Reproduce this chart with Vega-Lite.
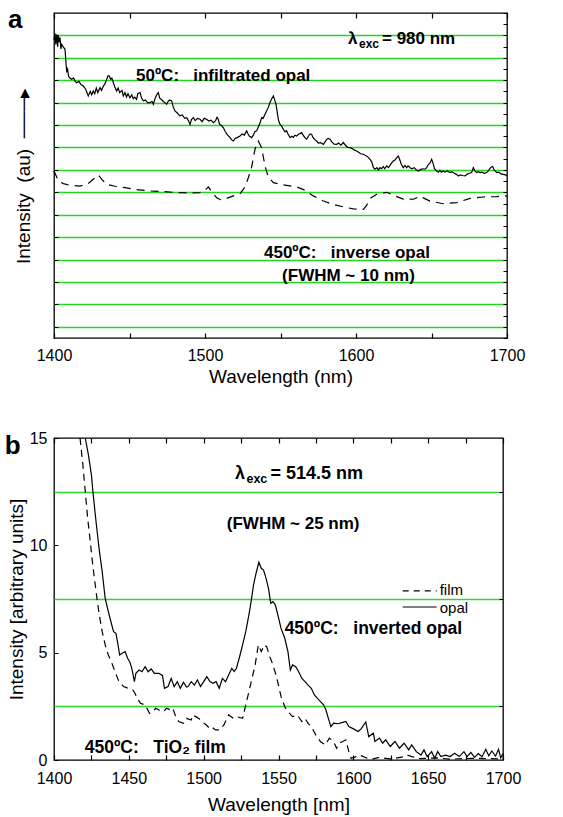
{
"$schema":"https://vega.github.io/schema/vega-lite/v6.json",
"background":"white",
"padding":{"left":4,"top":6,"right":10,"bottom":5},
"spacing":42,
"config":{"font":"Liberation Sans","view":{"stroke":"black","strokeWidth":1.3},"axis":{"labelColor":"black","titleColor":"black","tickColor":"black","labelFont":"Liberation Sans","titleFont":"Liberation Sans","titleFontWeight":"normal","domain":false,"grid":false},"text":{"color":"black"}},
"vconcat":[
{
"width":453,"height":325,
"data":{"values":[
{"s":"o","w":1400.0,"v":13.3},{"s":"o","w":1400.6,"v":13.6},{"s":"o","w":1401.2,"v":13.1},{"s":"o","w":1401.8,"v":13.55},{"s":"o","w":1402.4,"v":13.0},{"s":"o","w":1402.9,"v":13.5},{"s":"o","w":1403.5,"v":13.2},{"s":"o","w":1404.0,"v":13.4},{"s":"o","w":1404.6,"v":12.9},{"s":"o","w":1405.1,"v":13.1},{"s":"o","w":1406.0,"v":13.0},{"s":"o","w":1407.3,"v":12.88},{"s":"o","w":1408.0,"v":12.2},{"s":"o","w":1408.4,"v":11.91},{"s":"o","w":1409.0,"v":12.0},{"s":"o","w":1409.6,"v":11.69},{"s":"o","w":1410.5,"v":11.6},{"s":"o","w":1411.7,"v":11.54},{"s":"o","w":1413,"v":11.6},{"s":"o","w":1414,"v":11.45},{"s":"o","w":1415.0,"v":11.39},{"s":"o","w":1416.5,"v":11.45},{"s":"o","w":1418,"v":11.3},{"s":"o","w":1419.4,"v":11.24},{"s":"o","w":1421,"v":11.1},{"s":"o","w":1422.7,"v":10.8},{"s":"o","w":1424,"v":11.0},{"s":"o","w":1425,"v":10.85},{"s":"o","w":1426.0,"v":11.02},{"s":"o","w":1427,"v":10.9},{"s":"o","w":1428,"v":11.15},{"s":"o","w":1429,"v":10.95},{"s":"o","w":1430.5,"v":11.17},{"s":"o","w":1431.5,"v":11.05},{"s":"o","w":1432.7,"v":11.24},{"s":"o","w":1433.8,"v":11.35},{"s":"o","w":1434.9,"v":11.54},{"s":"o","w":1435.8,"v":11.7},{"s":"o","w":1436.6,"v":11.69},{"s":"o","w":1437.5,"v":11.55},{"s":"o","w":1438.3,"v":11.6},{"s":"o","w":1439.3,"v":11.39},{"s":"o","w":1440.3,"v":11.2},{"s":"o","w":1441.5,"v":11.02},{"s":"o","w":1442.5,"v":11.15},{"s":"o","w":1443.5,"v":10.95},{"s":"o","w":1445,"v":11.05},{"s":"o","w":1445.9,"v":10.8},{"s":"o","w":1447,"v":10.95},{"s":"o","w":1448,"v":10.75},{"s":"o","w":1449,"v":10.9},{"s":"o","w":1450.3,"v":10.72},{"s":"o","w":1451.5,"v":10.85},{"s":"o","w":1452.5,"v":10.68},{"s":"o","w":1453.5,"v":10.75},{"s":"o","w":1454.7,"v":10.65},{"s":"o","w":1455.5,"v":10.9},{"s":"o","w":1457.0,"v":10.95},{"s":"o","w":1458,"v":10.7},{"s":"o","w":1459.2,"v":10.58},{"s":"o","w":1460.5,"v":10.62},{"s":"o","w":1462,"v":10.5},{"s":"o","w":1463.6,"v":10.5},{"s":"o","w":1465,"v":10.55},{"s":"o","w":1465.8,"v":10.43},{"s":"o","w":1467,"v":10.7},{"s":"o","w":1468,"v":10.85},{"s":"o","w":1469.1,"v":10.95},{"s":"o","w":1470,"v":10.7},{"s":"o","w":1471,"v":10.65},{"s":"o","w":1472.4,"v":10.55},{"s":"o","w":1473.5,"v":10.5},{"s":"o","w":1474.6,"v":10.43},{"s":"o","w":1475.5,"v":10.55},{"s":"o","w":1476.5,"v":10.62},{"s":"o","w":1477.9,"v":10.58},{"s":"o","w":1479,"v":10.3},{"s":"o","w":1480.1,"v":10.13},{"s":"o","w":1481.5,"v":10.05},{"s":"o","w":1483.4,"v":9.91},{"s":"o","w":1485,"v":9.95},{"s":"o","w":1486.5,"v":9.8},{"s":"o","w":1487.9,"v":9.83},{"s":"o","w":1489,"v":9.7},{"s":"o","w":1490.1,"v":9.53},{"s":"o","w":1491,"v":9.75},{"s":"o","w":1492.3,"v":9.83},{"s":"o","w":1493.5,"v":9.7},{"s":"o","w":1495,"v":9.8},{"s":"o","w":1496.7,"v":9.76},{"s":"o","w":1498,"v":9.65},{"s":"o","w":1499.5,"v":9.8},{"s":"o","w":1501.1,"v":9.76},{"s":"o","w":1502.5,"v":9.68},{"s":"o","w":1504,"v":9.72},{"s":"o","w":1505.5,"v":9.61},{"s":"o","w":1507,"v":9.7},{"s":"o","w":1508.0,"v":9.85},{"s":"o","w":1508.8,"v":9.76},{"s":"o","w":1509.5,"v":9.55},{"s":"o","w":1510.5,"v":9.5},{"s":"o","w":1512.1,"v":9.39},{"s":"o","w":1513.5,"v":9.2},{"s":"o","w":1515,"v":9.05},{"s":"o","w":1516.6,"v":8.94},{"s":"o","w":1517.5,"v":8.85},{"s":"o","w":1518.8,"v":8.79},{"s":"o","w":1520,"v":8.9},{"s":"o","w":1521.5,"v":8.95},{"s":"o","w":1523.2,"v":9.01},{"s":"o","w":1524.5,"v":9.1},{"s":"o","w":1526,"v":9.05},{"s":"o","w":1527.6,"v":9.24},{"s":"o","w":1528.5,"v":9.1},{"s":"o","w":1529.5,"v":9.0},{"s":"o","w":1530.9,"v":8.94},{"s":"o","w":1532,"v":9.05},{"s":"o","w":1533,"v":9.2},{"s":"o","w":1534.2,"v":9.24},{"s":"o","w":1535.5,"v":9.45},{"s":"o","w":1536.5,"v":9.6},{"s":"o","w":1537.5,"v":9.83},{"s":"o","w":1538.5,"v":9.8},{"s":"o","w":1539.5,"v":9.95},{"s":"o","w":1540.8,"v":10.13},{"s":"o","w":1542,"v":10.3},{"s":"o","w":1543.0,"v":10.5},{"s":"o","w":1544,"v":10.65},{"s":"o","w":1545.3,"v":10.8},{"s":"o","w":1546.2,"v":10.6},{"s":"o","w":1547.0,"v":10.43},{"s":"o","w":1548,"v":10.0},{"s":"o","w":1548.7,"v":9.7},{"s":"o","w":1549.7,"v":9.53},{"s":"o","w":1550.8,"v":9.45},{"s":"o","w":1551.9,"v":9.31},{"s":"o","w":1553,"v":9.2},{"s":"o","w":1554,"v":9.25},{"s":"o","w":1555,"v":9.1},{"s":"o","w":1556.3,"v":8.94},{"s":"o","w":1557.5,"v":9.0},{"s":"o","w":1558.5,"v":8.95},{"s":"o","w":1559.5,"v":9.05},{"s":"o","w":1560.7,"v":9.01},{"s":"o","w":1562,"v":9.1},{"s":"o","w":1563,"v":9.12},{"s":"o","w":1564.0,"v":9.16},{"s":"o","w":1565,"v":9.05},{"s":"o","w":1566,"v":8.95},{"s":"o","w":1567.3,"v":8.87},{"s":"o","w":1568.5,"v":9.0},{"s":"o","w":1569.5,"v":9.1},{"s":"o","w":1570.6,"v":9.09},{"s":"o","w":1571.5,"v":8.95},{"s":"o","w":1572.7,"v":8.85},{"s":"o","w":1573.9,"v":8.79},{"s":"o","w":1575,"v":8.7},{"s":"o","w":1576.5,"v":8.72},{"s":"o","w":1578.4,"v":8.64},{"s":"o","w":1579.5,"v":8.75},{"s":"o","w":1580.5,"v":8.85},{"s":"o","w":1581.5,"v":8.9},{"s":"o","w":1582.8,"v":8.87},{"s":"o","w":1584,"v":8.75},{"s":"o","w":1585.5,"v":8.65},{"s":"o","w":1587.2,"v":8.64},{"s":"o","w":1588.5,"v":8.7},{"s":"o","w":1590,"v":8.6},{"s":"o","w":1591.6,"v":8.72},{"s":"o","w":1593,"v":8.6},{"s":"o","w":1594.5,"v":8.5},{"s":"o","w":1596.0,"v":8.49},{"s":"o","w":1597.5,"v":8.45},{"s":"o","w":1599,"v":8.38},{"s":"o","w":1600.4,"v":8.34},{"s":"o","w":1601.5,"v":8.3},{"s":"o","w":1603,"v":8.22},{"s":"o","w":1604.9,"v":8.2},{"s":"o","w":1606,"v":8.15},{"s":"o","w":1607.5,"v":8.1},{"s":"o","w":1609.3,"v":7.97},{"s":"o","w":1610.5,"v":7.85},{"s":"o","w":1611.5,"v":7.6},{"s":"o","w":1612.6,"v":7.53},{"s":"o","w":1613.8,"v":7.6},{"s":"o","w":1614.8,"v":7.5},{"s":"o","w":1615.9,"v":7.6},{"s":"o","w":1617,"v":7.55},{"s":"o","w":1618,"v":7.65},{"s":"o","w":1619,"v":7.55},{"s":"o","w":1620.3,"v":7.68},{"s":"o","w":1621.5,"v":7.6},{"s":"o","w":1622.5,"v":7.7},{"s":"o","w":1623.5,"v":7.8},{"s":"o","w":1624.7,"v":7.9},{"s":"o","w":1626,"v":7.95},{"s":"o","w":1627,"v":8.05},{"s":"o","w":1628.0,"v":8.12},{"s":"o","w":1629,"v":7.95},{"s":"o","w":1630,"v":7.75},{"s":"o","w":1631.3,"v":7.6},{"s":"o","w":1632.5,"v":7.7},{"s":"o","w":1633.5,"v":7.6},{"s":"o","w":1634.5,"v":7.68},{"s":"o","w":1635.8,"v":7.6},{"s":"o","w":1637,"v":7.55},{"s":"o","w":1638.5,"v":7.6},{"s":"o","w":1640,"v":7.5},{"s":"o","w":1641.3,"v":7.45},{"s":"o","w":1642.5,"v":7.5},{"s":"o","w":1644,"v":7.55},{"s":"o","w":1645.7,"v":7.53},{"s":"o","w":1646.8,"v":7.6},{"s":"o","w":1648,"v":7.75},{"s":"o","w":1649,"v":7.8},{"s":"o","w":1650.1,"v":7.97},{"s":"o","w":1651,"v":7.8},{"s":"o","w":1652,"v":7.55},{"s":"o","w":1653.4,"v":7.45},{"s":"o","w":1654.5,"v":7.4},{"s":"o","w":1655.5,"v":7.48},{"s":"o","w":1656.5,"v":7.4},{"s":"o","w":1657.8,"v":7.45},{"s":"o","w":1659,"v":7.4},{"s":"o","w":1660.5,"v":7.45},{"s":"o","w":1662.3,"v":7.38},{"s":"o","w":1663.5,"v":7.42},{"s":"o","w":1665,"v":7.35},{"s":"o","w":1666.5,"v":7.3},{"s":"o","w":1667.8,"v":7.23},{"s":"o","w":1669,"v":7.28},{"s":"o","w":1670.5,"v":7.25},{"s":"o","w":1672.2,"v":7.23},{"s":"o","w":1673.5,"v":7.3},{"s":"o","w":1675,"v":7.35},{"s":"o","w":1676.6,"v":7.38},{"s":"o","w":1677.7,"v":7.6},{"s":"o","w":1678.8,"v":7.45},{"s":"o","w":1680,"v":7.38},{"s":"o","w":1681,"v":7.42},{"s":"o","w":1682.1,"v":7.38},{"s":"o","w":1683.5,"v":7.4},{"s":"o","w":1685,"v":7.35},{"s":"o","w":1686.5,"v":7.38},{"s":"o","w":1687.5,"v":7.45},{"s":"o","w":1688.5,"v":7.55},{"s":"o","w":1689.5,"v":7.62},{"s":"o","w":1690.5,"v":7.65},{"s":"o","w":1691.5,"v":7.5},{"s":"o","w":1693.2,"v":7.38},{"s":"o","w":1694.5,"v":7.4},{"s":"o","w":1696,"v":7.32},{"s":"o","w":1697.6,"v":7.3},{"s":"o","w":1699,"v":7.28},{"s":"o","w":1700,"v":7.23},
{"s":"i","w":1400.0,"v":7.45},{"s":"i","w":1402.9,"v":7.01},{"s":"i","w":1406.2,"v":6.89},{"s":"i","w":1410.6,"v":6.81},{"s":"i","w":1417.2,"v":6.78},{"s":"i","w":1422.7,"v":6.9},{"s":"i","w":1426.0,"v":7.08},{"s":"i","w":1429.4,"v":7.27},{"s":"i","w":1431.6,"v":7.08},{"s":"i","w":1434.9,"v":6.86},{"s":"i","w":1440.4,"v":6.77},{"s":"i","w":1447.0,"v":6.71},{"s":"i","w":1454.7,"v":6.62},{"s":"i","w":1463.6,"v":6.56},{"s":"i","w":1472.4,"v":6.53},{"s":"i","w":1481.2,"v":6.49},{"s":"i","w":1490.1,"v":6.47},{"s":"i","w":1496.7,"v":6.49},{"s":"i","w":1500.0,"v":6.59},{"s":"i","w":1502.2,"v":6.74},{"s":"i","w":1504.4,"v":6.53},{"s":"i","w":1507.7,"v":6.26},{"s":"i","w":1510.4,"v":6.17},{"s":"i","w":1514.3,"v":6.23},{"s":"i","w":1518.8,"v":6.34},{"s":"i","w":1523.2,"v":6.44},{"s":"i","w":1526.5,"v":6.74},{"s":"i","w":1528.7,"v":7.15},{"s":"i","w":1530.9,"v":7.63},{"s":"i","w":1533.1,"v":8.42},{"s":"i","w":1535.3,"v":8.79},{"s":"i","w":1537.5,"v":8.49},{"s":"i","w":1539.7,"v":7.68},{"s":"i","w":1541.9,"v":7.18},{"s":"i","w":1545.3,"v":6.93},{"s":"i","w":1551.9,"v":6.83},{"s":"i","w":1560.7,"v":6.74},{"s":"i","w":1566.2,"v":6.59},{"s":"i","w":1571.7,"v":6.34},{"s":"i","w":1578.4,"v":6.11},{"s":"i","w":1585.0,"v":5.96},{"s":"i","w":1591.6,"v":5.85},{"s":"i","w":1598.2,"v":5.76},{"s":"i","w":1604.9,"v":5.74},{"s":"i","w":1607.1,"v":5.93},{"s":"i","w":1609.3,"v":6.23},{"s":"i","w":1613.7,"v":6.41},{"s":"i","w":1620.3,"v":6.5},{"s":"i","w":1624.7,"v":6.37},{"s":"i","w":1631.3,"v":6.2},{"s":"i","w":1638.0,"v":6.19},{"s":"i","w":1642.4,"v":6.32},{"s":"i","w":1649.0,"v":6.11},{"s":"i","w":1657.8,"v":5.99},{"s":"i","w":1666.7,"v":6.04},{"s":"i","w":1675.5,"v":6.23},{"s":"i","w":1684.3,"v":6.29},{"s":"i","w":1693.2,"v":6.31},{"s":"i","w":1700.0,"v":6.34}
]},
"resolve":{"axis":{"x":"independent","y":"independent"}},
"layer":[
{"transform":[{"filter":"datum.s === 'o'"}],
 "mark":{"type":"line","color":"black","strokeWidth":1.2},
 "encoding":{
  "x":{"field":"w","type":"quantitative","scale":{"domain":[1400,1700],"nice":false,"zero":false},
   "axis":{"orient":"bottom","values":[1400,1450,1500,1550,1600,1650,1700],"format":"d","labelExpr":"datum.value % 100 === 0 ? datum.label : ''","tickSize":-5,"tickWidth":1.2,"labelPadding":14,"labelFontSize":16,"labelFlush":false,"grid":false,"title":"Wavelength (nm)","titleFontSize":19,"titlePadding":4}},
  "y":{"field":"v","type":"quantitative","scale":{"domain":[0,14.5],"nice":false,"zero":false},
   "axis":{"orient":"left","values":[0.5,1.5,2.5,3.5,4.5,5.5,6.5,7.5,8.5,9.5,10.5,11.5,12.5,13.5],"labels":false,"tickSize":-4,"tickWidth":1,"grid":true,"gridColor":"#22d622","gridWidth":1.3,"gridOpacity":1,"title":"Intensity\u00a0\u00a0(au)\u00a0\u00a0───▸","titleFontSize":19,"titlePadding":20}}}},
{"transform":[{"filter":"datum.s === 'i'"}],
 "mark":{"type":"line","color":"black","strokeWidth":1.2,"strokeDash":[8,6]},
 "encoding":{
  "x":{"field":"w","type":"quantitative","axis":{"orient":"top","values":[1400,1450,1500,1550,1600,1650,1700],"labels":false,"grid":false,"tickSize":-5,"tickWidth":1.2,"title":null}},
  "y":{"field":"v","type":"quantitative","axis":{"orient":"right","values":[0,0.5,1,1.5,2,2.5,3,3.5,4,4.5,5,5.5,6,6.5,7,7.5,8,8.5,9,9.5,10,10.5,11,11.5,12,12.5,13,13.5,14,14.5],"labels":false,"grid":false,"tickSize":-4,"tickWidth":1,"title":null}}}},
{"data":{"values":[{}]},"mark":{"type":"text","text":"a","fontWeight":"bold","fontSize":26,"align":"left","baseline":"alphabetic"},
 "encoding":{"x":{"datum":1369.5,"type":"quantitative","axis":null},"y":{"datum":13.83,"type":"quantitative","axis":null}}},
{"data":{"values":[{}]},"mark":{"type":"text","text":"λ","fontWeight":"bold","fontSize":17,"align":"left","baseline":"alphabetic"},
 "encoding":{"x":{"datum":1594.7,"type":"quantitative","axis":null},"y":{"datum":13.1,"type":"quantitative","axis":null}}},
{"data":{"values":[{}]},"mark":{"type":"text","text":"exc","fontWeight":"bold","fontSize":12,"align":"left","baseline":"alphabetic","dx":11,"dy":4},
 "encoding":{"x":{"datum":1594.7,"type":"quantitative","axis":null},"y":{"datum":13.1,"type":"quantitative","axis":null}}},
{"data":{"values":[{}]},"mark":{"type":"text","text":"= 980 nm","fontWeight":"bold","fontSize":17,"align":"left","baseline":"alphabetic","dx":34},
 "encoding":{"x":{"datum":1594.7,"type":"quantitative","axis":null},"y":{"datum":13.1,"type":"quantitative","axis":null}}},
{"data":{"values":[{}]},"mark":{"type":"text","text":"50ºC:\u00a0\u00a0\u00a0infiltrated opal","fontWeight":"bold","fontSize":17,"align":"left","baseline":"alphabetic"},
 "encoding":{"x":{"datum":1454.3,"type":"quantitative","axis":null},"y":{"datum":11.47,"type":"quantitative","axis":null}}},
{"data":{"values":[{}]},"mark":{"type":"text","text":"450ºC:\u00a0\u00a0\u00a0inverse opal","fontWeight":"bold","fontSize":17,"align":"center","baseline":"alphabetic"},
 "encoding":{"x":{"datum":1594,"type":"quantitative","axis":null},"y":{"datum":3.58,"type":"quantitative","axis":null}}},
{"data":{"values":[{}]},"mark":{"type":"text","text":"(FWHM ~ 10 nm)","fontWeight":"bold","fontSize":17,"align":"center","baseline":"alphabetic"},
 "encoding":{"x":{"datum":1595,"type":"quantitative","axis":null},"y":{"datum":2.54,"type":"quantitative","axis":null}}}
]
},
{
"width":449,"height":322,
"data":{"values":[
{"s":"p","w":1420.9,"v":15.0},{"s":"p","w":1423.0,"v":14.21},{"s":"p","w":1425.0,"v":13.28},{"s":"p","w":1426.0,"v":12.5},{"s":"p","w":1428.1,"v":11.1},{"s":"p","w":1430.1,"v":9.86},{"s":"p","w":1432.2,"v":8.77},{"s":"p","w":1434.2,"v":7.53},{"s":"p","w":1436.3,"v":6.91},{"s":"p","w":1438.3,"v":6.37},{"s":"p","w":1439.8,"v":5.98},{"s":"p","w":1441.4,"v":5.9},{"s":"p","w":1442.4,"v":5.51},{"s":"p","w":1443.9,"v":4.89},{"s":"p","w":1445.5,"v":4.97},{"s":"p","w":1447.5,"v":5.05},{"s":"p","w":1449.2,"v":4.74},{"s":"p","w":1450.6,"v":4.58},{"s":"p","w":1452.0,"v":4.27},{"s":"p","w":1453.7,"v":3.65},{"s":"p","w":1454.7,"v":4.04},{"s":"p","w":1456.8,"v":4.19},{"s":"p","w":1458.8,"v":4.11},{"s":"p","w":1460.9,"v":4.35},{"s":"p","w":1462.9,"v":4.11},{"s":"p","w":1465.0,"v":4.24},{"s":"p","w":1467.0,"v":4.04},{"s":"p","w":1470.1,"v":4.04},{"s":"p","w":1472.5,"v":3.93},{"s":"p","w":1473.8,"v":3.34},{"s":"p","w":1476.2,"v":3.42},{"s":"p","w":1478.3,"v":3.8},{"s":"p","w":1480.3,"v":3.42},{"s":"p","w":1482.4,"v":3.65},{"s":"p","w":1484.4,"v":3.34},{"s":"p","w":1486.5,"v":3.62},{"s":"p","w":1488.5,"v":3.4},{"s":"p","w":1489.6,"v":3.42},{"s":"p","w":1491.7,"v":3.65},{"s":"p","w":1493.8,"v":3.49},{"s":"p","w":1495.8,"v":3.73},{"s":"p","w":1497.9,"v":3.42},{"s":"p","w":1500.0,"v":3.65},{"s":"p","w":1502.1,"v":3.88},{"s":"p","w":1504.2,"v":3.65},{"s":"p","w":1506.3,"v":3.57},{"s":"p","w":1508.3,"v":3.65},{"s":"p","w":1510.4,"v":3.34},{"s":"p","w":1512.5,"v":3.8},{"s":"p","w":1514.6,"v":3.65},{"s":"p","w":1516.7,"v":3.96},{"s":"p","w":1518.8,"v":4.27},{"s":"p","w":1520.4,"v":4.12},{"s":"p","w":1521.9,"v":4.27},{"s":"p","w":1524.0,"v":4.81},{"s":"p","w":1526.0,"v":5.36},{"s":"p","w":1528.1,"v":5.98},{"s":"p","w":1530.2,"v":6.75},{"s":"p","w":1531.7,"v":7.38},{"s":"p","w":1533.3,"v":8.15},{"s":"p","w":1535.0,"v":8.7},{"s":"p","w":1536.9,"v":9.21},{"s":"p","w":1538.5,"v":8.93},{"s":"p","w":1540.0,"v":8.85},{"s":"p","w":1541.7,"v":8.46},{"s":"p","w":1543.3,"v":8.0},{"s":"p","w":1544.8,"v":7.3},{"s":"p","w":1546.3,"v":7.38},{"s":"p","w":1547.9,"v":7.22},{"s":"p","w":1549.6,"v":6.75},{"s":"p","w":1551.7,"v":6.13},{"s":"p","w":1554.2,"v":5.67},{"s":"p","w":1556.3,"v":5.05},{"s":"p","w":1557.9,"v":4.19},{"s":"p","w":1559.4,"v":4.43},{"s":"p","w":1561.5,"v":4.35},{"s":"p","w":1563.5,"v":4.11},{"s":"p","w":1565.6,"v":3.8},{"s":"p","w":1567.7,"v":3.65},{"s":"p","w":1569.8,"v":3.49},{"s":"p","w":1571.9,"v":3.34},{"s":"p","w":1574.0,"v":3.03},{"s":"p","w":1576.0,"v":2.87},{"s":"p","w":1578.1,"v":2.72},{"s":"p","w":1580.2,"v":2.56},{"s":"p","w":1581.7,"v":2.33},{"s":"p","w":1583.3,"v":1.94},{"s":"p","w":1585.0,"v":1.55},{"s":"p","w":1586.8,"v":1.72},{"s":"p","w":1589.8,"v":1.69},{"s":"p","w":1592.9,"v":1.75},{"s":"p","w":1595.0,"v":1.8},{"s":"p","w":1597.0,"v":1.56},{"s":"p","w":1600.1,"v":1.45},{"s":"p","w":1603.2,"v":1.33},{"s":"p","w":1605.2,"v":1.45},{"s":"p","w":1608.3,"v":1.77},{"s":"p","w":1610.3,"v":1.09},{"s":"p","w":1613.4,"v":1.25},{"s":"p","w":1614.4,"v":0.86},{"s":"p","w":1617.5,"v":1.02},{"s":"p","w":1619.6,"v":0.78},{"s":"p","w":1621.6,"v":0.94},{"s":"p","w":1624.7,"v":0.63},{"s":"p","w":1627.8,"v":0.86},{"s":"p","w":1630.8,"v":0.55},{"s":"p","w":1633.9,"v":0.78},{"s":"p","w":1637.0,"v":0.47},{"s":"p","w":1639.0,"v":0.7},{"s":"p","w":1642.1,"v":0.39},{"s":"p","w":1645.2,"v":0.23},{"s":"p","w":1647.2,"v":0.47},{"s":"p","w":1649.3,"v":0.16},{"s":"p","w":1652.3,"v":0.39},{"s":"p","w":1654.4,"v":0.08},{"s":"p","w":1656.4,"v":0.39},{"s":"p","w":1658.5,"v":0.16},{"s":"p","w":1661.6,"v":0.23},{"s":"p","w":1664.6,"v":0.16},{"s":"p","w":1667.7,"v":0.31},{"s":"p","w":1670.8,"v":0.16},{"s":"p","w":1673.9,"v":0.39},{"s":"p","w":1676.0,"v":0.16},{"s":"p","w":1678.5,"v":0.35},{"s":"p","w":1681.0,"v":0.12},{"s":"p","w":1683.5,"v":0.3},{"s":"p","w":1686.0,"v":0.15},{"s":"p","w":1688.5,"v":0.5},{"s":"p","w":1690.5,"v":0.2},{"s":"p","w":1692.5,"v":0.42},{"s":"p","w":1695.0,"v":0.18},{"s":"p","w":1697.0,"v":0.5},{"s":"p","w":1698.5,"v":0.1},{"s":"p","w":1700.0,"v":0.3},
{"s":"f","w":1417.4,"v":15.0},{"s":"f","w":1419.3,"v":13.74},{"s":"f","w":1420.9,"v":12.5},{"s":"f","w":1422.5,"v":11.26},{"s":"f","w":1424.0,"v":10.33},{"s":"f","w":1425.4,"v":9.39},{"s":"f","w":1427.0,"v":8.46},{"s":"f","w":1428.7,"v":7.53},{"s":"f","w":1430.1,"v":6.83},{"s":"f","w":1432.2,"v":5.98},{"s":"f","w":1434.2,"v":5.36},{"s":"f","w":1436.3,"v":4.89},{"s":"f","w":1438.3,"v":4.58},{"s":"f","w":1440.4,"v":4.19},{"s":"f","w":1443.4,"v":3.65},{"s":"f","w":1446.5,"v":3.42},{"s":"f","w":1449.6,"v":3.34},{"s":"f","w":1452.7,"v":3.26},{"s":"f","w":1454.1,"v":3.11},{"s":"f","w":1455.7,"v":2.87},{"s":"f","w":1457.8,"v":2.64},{"s":"f","w":1460.9,"v":2.56},{"s":"f","w":1463.9,"v":2.17},{"s":"f","w":1466.0,"v":2.25},{"s":"f","w":1468.0,"v":2.41},{"s":"f","w":1470.1,"v":2.33},{"s":"f","w":1473.2,"v":2.25},{"s":"f","w":1475.2,"v":2.41},{"s":"f","w":1477.9,"v":2.33},{"s":"f","w":1479.3,"v":2.41},{"s":"f","w":1481.4,"v":2.02},{"s":"f","w":1483.4,"v":1.79},{"s":"f","w":1486.5,"v":1.71},{"s":"f","w":1488.5,"v":1.94},{"s":"f","w":1491.6,"v":1.86},{"s":"f","w":1492.7,"v":2.1},{"s":"f","w":1494.7,"v":2.02},{"s":"f","w":1496.7,"v":1.94},{"s":"f","w":1498.8,"v":1.79},{"s":"f","w":1501.8,"v":1.63},{"s":"f","w":1503.9,"v":1.48},{"s":"f","w":1505.2,"v":1.55},{"s":"f","w":1508.0,"v":1.4},{"s":"f","w":1510.4,"v":1.4},{"s":"f","w":1513.5,"v":1.63},{"s":"f","w":1516.7,"v":2.1},{"s":"f","w":1519.8,"v":1.94},{"s":"f","w":1521.9,"v":2.02},{"s":"f","w":1526.0,"v":1.94},{"s":"f","w":1528.1,"v":2.56},{"s":"f","w":1530.2,"v":3.18},{"s":"f","w":1532.3,"v":3.8},{"s":"f","w":1534.4,"v":4.43},{"s":"f","w":1536.5,"v":5.36},{"s":"f","w":1538.5,"v":5.05},{"s":"f","w":1540.6,"v":5.36},{"s":"f","w":1542.1,"v":5.28},{"s":"f","w":1544.2,"v":4.81},{"s":"f","w":1546.3,"v":4.43},{"s":"f","w":1548.3,"v":3.96},{"s":"f","w":1550.0,"v":3.49},{"s":"f","w":1551.7,"v":2.95},{"s":"f","w":1554.2,"v":2.48},{"s":"f","w":1556.3,"v":2.25},{"s":"f","w":1559.4,"v":2.02},{"s":"f","w":1562.5,"v":2.1},{"s":"f","w":1565.6,"v":1.79},{"s":"f","w":1567.7,"v":1.94},{"s":"f","w":1569.8,"v":1.71},{"s":"f","w":1572.5,"v":1.48},{"s":"f","w":1575.0,"v":1.16},{"s":"f","w":1578.1,"v":0.85},{"s":"f","w":1581.3,"v":0.7},{"s":"f","w":1584.0,"v":1.02},{"s":"f","w":1586.8,"v":0.86},{"s":"f","w":1588.8,"v":0.55},{"s":"f","w":1591.0,"v":0.8},{"s":"f","w":1592.9,"v":0.86},{"s":"f","w":1595.0,"v":0.94},{"s":"f","w":1597.0,"v":0.39},{"s":"f","w":1598.5,"v":0.08},{"s":"f","w":1602.1,"v":0.16},{"s":"f","w":1604.2,"v":0.23},{"s":"f","w":1609.3,"v":0.08},{"s":"f","w":1613.4,"v":0.05},{"s":"f","w":1616.5,"v":0.11},{"s":"f","w":1621.6,"v":0.08},{"s":"f","w":1624.7,"v":0.05},{"s":"f","w":1627.8,"v":0.08},{"s":"f","w":1633.9,"v":0.16},{"s":"f","w":1636.0,"v":0.23},{"s":"f","w":1639.0,"v":0.16},{"s":"f","w":1645.0,"v":0.06},{"s":"f","w":1655.0,"v":0.1},{"s":"f","w":1665.0,"v":0.04},{"s":"f","w":1680.0,"v":0.08},{"s":"f","w":1700.0,"v":0.05}
]},
"resolve":{"axis":{"x":"independent","y":"independent"}},
"layer":[
{"transform":[{"filter":"datum.s === 'p'"}],
 "mark":{"type":"line","color":"black","strokeWidth":1.2},
 "encoding":{
  "x":{"field":"w","type":"quantitative","scale":{"domain":[1400,1700],"nice":false,"zero":false},
   "axis":{"orient":"bottom","values":[1400,1425,1450,1475,1500,1525,1550,1575,1600,1625,1650,1675,1700],"format":"d","labelExpr":"datum.value % 50 === 0 ? datum.label : ''","tickSize":-5,"tickWidth":1.2,"labelPadding":15,"labelFontSize":16,"labelFlush":false,"grid":false,"title":"Wavelength [nm]","titleFontSize":19,"titlePadding":9}},
  "y":{"field":"v","type":"quantitative","scale":{"domain":[0,15],"nice":false,"zero":false},
   "axis":{"orient":"left","values":[0,5,10,15],"format":"d","labelFontSize":16,"labelPadding":11,"labelFlush":false,"tickSize":-4,"tickWidth":1,"grid":false,"title":"Intensity [arbitrary units]","titleFontSize":19,"titlePadding":3}}}},
{"transform":[{"filter":"datum.s === 'f'"}],
 "mark":{"type":"line","color":"black","strokeWidth":1.2,"strokeDash":[7,5]},
 "encoding":{
  "x":{"field":"w","type":"quantitative","axis":{"orient":"top","values":[1400,1425,1450,1475,1500,1525,1550,1575,1600,1625,1650,1675,1700],"labels":false,"grid":false,"tickSize":-5,"tickWidth":1.2,"title":null}},
  "y":{"field":"v","type":"quantitative","axis":{"orient":"right","values":[2.5,7.5,12.5],"labels":false,"grid":true,"gridColor":"#2ed82e","gridWidth":1.3,"tickSize":-4,"tickWidth":1,"title":null}}}},
{"data":{"values":[{}]},"mark":{"type":"text","text":"b","fontWeight":"bold","fontSize":26,"align":"left","baseline":"alphabetic"},
 "encoding":{"x":{"datum":1367.1,"type":"quantitative","axis":null},"y":{"datum":14.25,"type":"quantitative","axis":null}}},
{"data":{"values":[{}]},"mark":{"type":"text","text":"λ","fontWeight":"bold","fontSize":18,"align":"left","baseline":"alphabetic"},
 "encoding":{"x":{"datum":1520.9,"type":"quantitative","axis":null},"y":{"datum":13.08,"type":"quantitative","axis":null}}},
{"data":{"values":[{}]},"mark":{"type":"text","text":"exc","fontWeight":"bold","fontSize":12.5,"align":"left","baseline":"alphabetic","dx":11.5,"dy":4},
 "encoding":{"x":{"datum":1520.9,"type":"quantitative","axis":null},"y":{"datum":13.08,"type":"quantitative","axis":null}}},
{"data":{"values":[{}]},"mark":{"type":"text","text":"= 514.5 nm","fontWeight":"bold","fontSize":18,"align":"left","baseline":"alphabetic","dx":35.5},
 "encoding":{"x":{"datum":1520.9,"type":"quantitative","axis":null},"y":{"datum":13.08,"type":"quantitative","axis":null}}},
{"data":{"values":[{}]},"mark":{"type":"text","text":"(FWHM ~ 25 nm)","fontWeight":"bold","fontSize":17,"align":"center","baseline":"alphabetic"},
 "encoding":{"x":{"datum":1559.8,"type":"quantitative","axis":null},"y":{"datum":10.78,"type":"quantitative","axis":null}}},
{"data":{"values":[{}]},"mark":{"type":"text","text":"450ºC:\u00a0\u00a0\u00a0inverted opal","fontWeight":"bold","fontSize":17.5,"align":"left","baseline":"alphabetic"},
 "encoding":{"x":{"datum":1554.1,"type":"quantitative","axis":null},"y":{"datum":5.88,"type":"quantitative","axis":null}}},
{"data":{"values":[{}]},"mark":{"type":"text","text":"450ºC:\u00a0\u00a0\u00a0TiO₂ film","fontWeight":"bold","fontSize":17.5,"align":"left","baseline":"alphabetic"},
 "encoding":{"x":{"datum":1420.5,"type":"quantitative","axis":null},"y":{"datum":0.34,"type":"quantitative","axis":null}}},
{"data":{"values":[{}]},"mark":{"type":"rule","color":"black","strokeWidth":1.1,"strokeDash":[6,5]},
 "encoding":{"x":{"datum":1633,"type":"quantitative","axis":null},"x2":{"datum":1655.7},"y":{"datum":7.88,"type":"quantitative","axis":null}}},
{"data":{"values":[{}]},"mark":{"type":"rule","color":"black","strokeWidth":1.1},
 "encoding":{"x":{"datum":1633,"type":"quantitative","axis":null},"x2":{"datum":1655.7},"y":{"datum":7.13,"type":"quantitative","axis":null}}},
{"data":{"values":[{}]},"mark":{"type":"text","text":"film","fontSize":15,"align":"left","baseline":"middle"},
 "encoding":{"x":{"datum":1657.7,"type":"quantitative","axis":null},"y":{"datum":7.9,"type":"quantitative","axis":null}}},
{"data":{"values":[{}]},"mark":{"type":"text","text":"opal","fontSize":15,"align":"left","baseline":"middle"},
 "encoding":{"x":{"datum":1657.7,"type":"quantitative","axis":null},"y":{"datum":7.1,"type":"quantitative","axis":null}}}
]
}
]
}
